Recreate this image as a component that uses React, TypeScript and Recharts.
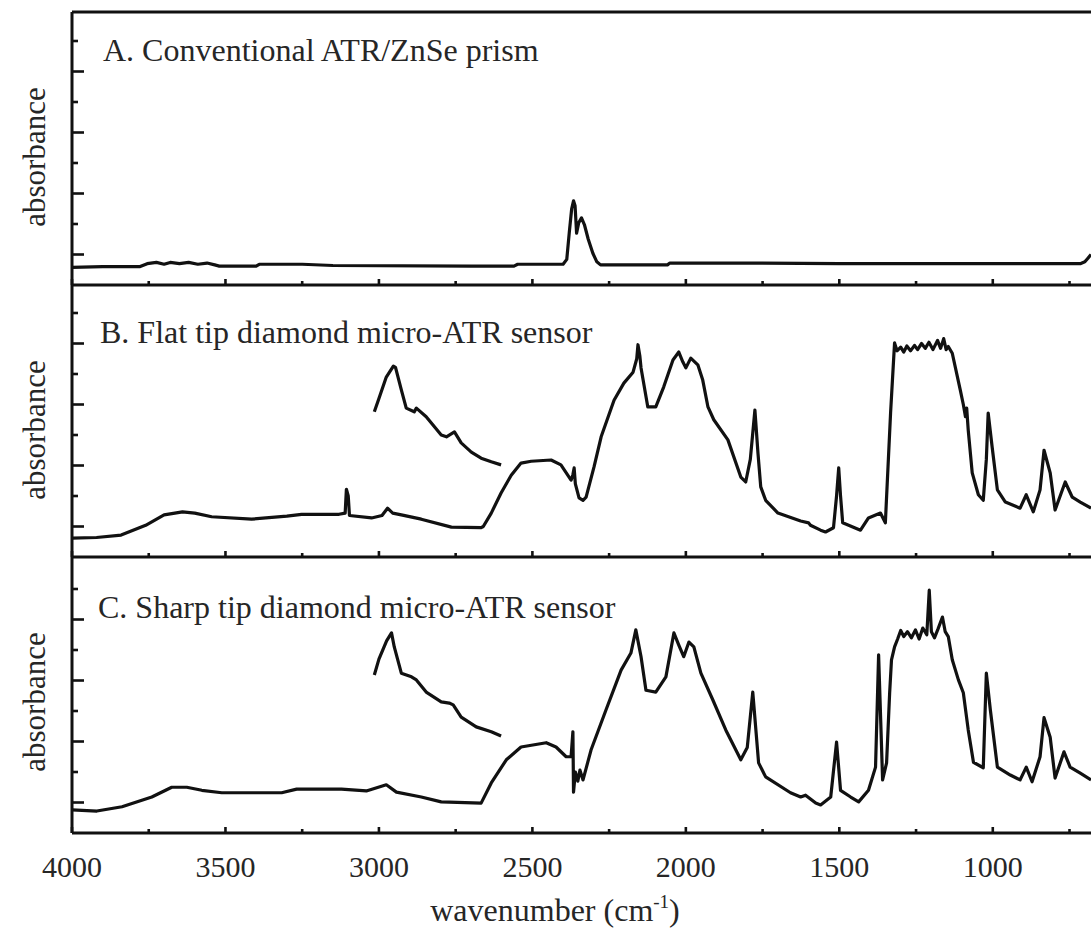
import React from 'react';
import { LineChart, Line, XAxis, YAxis, ReferenceLine } from 'recharts';

type Pt = [number, number];

// x axis (wavenumber, cm-1), reversed
const xDomain: [number, number] = [680, 4000];
const xTicks = [4000, 3750, 3500, 3250, 3000, 2750, 2500, 2250, 2000, 1750, 1500, 1250, 1000, 750];
const xLabels = [4000, 3500, 3000, 2500, 2000, 1500, 1000];
// y axis (absorbance, arbitrary units)
const yTicks = [0.5, 1, 1.5, 2, 2.5, 3, 3.5, 4];
const yMajor = [0.5, 1.5, 2.5, 3.5];

const panelTitles = [
  'A. Conventional ATR/ZnSe prism',
  'B. Flat tip diamond micro-ATR sensor',
  'C. Sharp tip diamond micro-ATR sensor',
];
const yTitle = 'absorbance';
const xTitle = 'wavenumber (cm';
const xTitleSup = '-1';

// A. Conventional ATR/ZnSe prism
const spectrumA: Pt[] = [
  [4000, 0.29], [3900, 0.30], [3780, 0.30], [3755, 0.35], [3725, 0.37], [3700, 0.34], [3680, 0.37],
  [3650, 0.35], [3620, 0.37], [3590, 0.34], [3560, 0.36], [3535, 0.33], [3520, 0.31], [3400, 0.31],
  [3390, 0.34], [3250, 0.34], [3150, 0.32], [2700, 0.31], [2560, 0.31], [2548, 0.34], [2400, 0.34],
  [2388, 0.42], [2380, 0.85], [2372, 1.25], [2366, 1.38], [2361, 1.30], [2356, 0.85], [2349, 1.02],
  [2340, 1.10], [2330, 0.98], [2318, 0.75], [2303, 0.52], [2290, 0.38], [2278, 0.33], [2060, 0.33],
  [2052, 0.36], [1800, 0.36], [1500, 0.35], [1200, 0.35], [900, 0.35], [715, 0.35], [700, 0.38],
  [690, 0.44], [680, 0.50],
];

// B. Flat tip diamond micro-ATR sensor
const spectrumB: Pt[] = [
  [4000, 0.31], [3920, 0.32], [3840, 0.36], [3760, 0.52], [3700, 0.69], [3640, 0.74], [3600, 0.72],
  [3545, 0.66], [3415, 0.62], [3300, 0.67], [3252, 0.70], [3130, 0.70], [3110, 0.72], [3106, 1.11],
  [3100, 1.00], [3096, 0.68], [3024, 0.64], [2990, 0.68], [2972, 0.80], [2955, 0.72], [2927, 0.69],
  [2862, 0.62], [2764, 0.49], [2667, 0.48], [2660, 0.50], [2634, 0.72], [2602, 1.05], [2569, 1.34],
  [2537, 1.54], [2504, 1.57], [2439, 1.59], [2407, 1.51], [2374, 1.26], [2368, 1.35], [2364, 1.46],
  [2360, 1.20], [2348, 0.97], [2335, 0.93], [2325, 0.98], [2299, 1.48], [2276, 1.97], [2234, 2.57],
  [2202, 2.85], [2172, 3.03], [2160, 3.25], [2156, 3.48], [2150, 3.30], [2146, 3.10], [2124, 2.46],
  [2098, 2.46], [2072, 2.79], [2042, 3.23], [2023, 3.36], [2010, 3.20], [2000, 3.10], [1984, 3.26],
  [1961, 3.15], [1945, 2.90], [1928, 2.46], [1909, 2.25], [1863, 1.92], [1821, 1.31], [1805, 1.23],
  [1790, 1.60], [1775, 2.41], [1765, 1.70], [1756, 1.15], [1740, 0.93], [1700, 0.72], [1626, 0.59],
  [1600, 0.56], [1594, 0.52], [1561, 0.44], [1545, 0.41], [1519, 0.48], [1509, 1.00], [1502, 1.46],
  [1496, 1.00], [1489, 0.56], [1431, 0.44], [1405, 0.64], [1366, 0.72], [1350, 0.56], [1333, 2.36],
  [1320, 3.51], [1312, 3.38], [1300, 3.44], [1290, 3.36], [1280, 3.46], [1268, 3.38], [1255, 3.47],
  [1245, 3.40], [1232, 3.50], [1220, 3.42], [1208, 3.52], [1195, 3.40], [1180, 3.55], [1170, 3.42],
  [1160, 3.58], [1152, 3.40], [1145, 3.45], [1132, 3.34], [1106, 2.74], [1096, 2.50], [1089, 2.30],
  [1085, 2.44], [1080, 2.08], [1067, 1.38], [1047, 1.02], [1031, 0.93], [1021, 1.60], [1015, 2.36],
  [1002, 1.80], [985, 1.10], [959, 0.90], [911, 0.80], [891, 1.02], [868, 0.74], [846, 1.10],
  [833, 1.75], [813, 1.38], [797, 0.77], [764, 1.23], [741, 0.98], [715, 0.90], [680, 0.80],
];

// B. expanded C-H stretch region
const insetB: Pt[] = [
  [3015, 2.38], [3000, 2.60], [2976, 2.95], [2953, 3.13], [2946, 3.11], [2927, 2.74], [2911, 2.44],
  [2885, 2.38], [2878, 2.44], [2846, 2.30], [2797, 2.00], [2780, 1.97], [2754, 2.05], [2732, 1.87],
  [2699, 1.72], [2667, 1.62], [2634, 1.56], [2602, 1.51],
];

// C. Sharp tip diamond micro-ATR sensor
const spectrumC: Pt[] = [
  [4000, 0.38], [3919, 0.36], [3837, 0.43], [3740, 0.59], [3675, 0.75], [3626, 0.75], [3577, 0.70],
  [3512, 0.66], [3317, 0.66], [3268, 0.72], [3122, 0.72], [3041, 0.69], [2976, 0.79], [2943, 0.67],
  [2862, 0.59], [2797, 0.51], [2667, 0.49], [2634, 0.82], [2585, 1.20], [2537, 1.41], [2455, 1.48],
  [2423, 1.41], [2390, 1.25], [2374, 1.25], [2368, 1.66], [2366, 0.67], [2360, 1.00], [2352, 0.85],
  [2345, 1.03], [2335, 0.87], [2309, 1.36], [2260, 2.02], [2211, 2.67], [2179, 2.95], [2163, 3.33],
  [2146, 2.89], [2130, 2.34], [2098, 2.31], [2065, 2.56], [2039, 3.28], [2023, 3.08], [2007, 2.89],
  [1990, 3.13], [1974, 3.05], [1951, 2.62], [1912, 2.18], [1870, 1.69], [1821, 1.20], [1800, 1.40],
  [1782, 2.31], [1763, 1.15], [1740, 0.92], [1659, 0.66], [1626, 0.59], [1610, 0.62], [1577, 0.49],
  [1561, 0.46], [1528, 0.59], [1509, 1.49], [1496, 0.70], [1463, 0.59], [1437, 0.51], [1405, 0.70],
  [1382, 1.08], [1372, 2.92], [1359, 0.87], [1346, 1.15], [1336, 2.30], [1330, 2.84], [1320, 3.05],
  [1310, 3.18], [1300, 3.32], [1290, 3.22], [1278, 3.30], [1265, 3.20], [1252, 3.33], [1240, 3.18],
  [1228, 3.36], [1215, 3.25], [1207, 3.98], [1200, 3.30], [1190, 3.20], [1178, 3.35], [1164, 3.54],
  [1155, 3.30], [1145, 3.22], [1132, 2.84], [1112, 2.51], [1096, 2.30], [1080, 1.69], [1063, 1.16],
  [1031, 1.07], [1021, 2.62], [1008, 2.02], [985, 1.08], [943, 0.95], [911, 0.87], [891, 1.08],
  [872, 0.84], [846, 1.25], [833, 1.89], [813, 1.57], [797, 0.90], [768, 1.33], [748, 1.08],
  [715, 0.98], [680, 0.87],
];

// C. expanded C-H stretch region
const insetC: Pt[] = [
  [3015, 2.59], [3000, 2.85], [2975, 3.15], [2959, 3.28], [2950, 3.05], [2927, 2.62], [2894, 2.56],
  [2878, 2.51], [2846, 2.31], [2797, 2.15], [2771, 2.13], [2758, 2.10], [2732, 1.90], [2683, 1.74],
  [2634, 1.66], [2602, 1.59],
];

const FONT = '"Liberation Serif", "Times New Roman", serif';
const INK = '#111';
const TEXT = '#262626';
const PX_PER_UNIT = 61;

const rows = (pts: Pt[]) => pts.map(([w, a]) => ({ w, a }));

function YTick(props: any) {
  const { x, y, payload } = props;
  const major = yMajor.includes(payload.value);
  return <line x1={x} y1={y} x2={x + (major ? 12 : 6)} y2={y} stroke={INK} strokeWidth={2.6} />;
}

function makeXTick(showLabel: boolean) {
  return (props: any) => {
    const { x, y, payload } = props;
    const major = xLabels.includes(payload.value);
    return (
      <g>
        <line x1={x} y1={y} x2={x} y2={y - (major ? 6 : 4)} stroke={INK} strokeWidth={2.6} />
        {showLabel && major ? (
          <text x={x} y={y + 44} textAnchor="middle" fontFamily={FONT} fontSize={30} fill={TEXT}>
            {payload.value}
          </text>
        ) : null}
      </g>
    );
  };
}

type PanelProps = {
  top: number;
  height: number;
  mTop: number;
  mBottom: number;
  main: Pt[];
  inset?: Pt[];
  title: string;
  titleDx: number;
  titleDy: number;
  topBorder?: boolean;
  showXLabels?: boolean;
};

const X_AXIS_H = 1;
const LINE_W = 3.2;

function Panel(p: PanelProps) {
  const plotH = p.height - p.mTop - p.mBottom - X_AXIS_H;
  const yMax = plotH / PX_PER_UNIT;
  const yLabel = (lp: any) => {
    const vb = lp.viewBox || {};
    const left = (vb.x || 0) + (vb.width || 0);
    const topY = vb.y || 0;
    const cy = topY + 145;
    return (
      <g>
        <text
          x={45}
          y={cy}
          transform={`rotate(-90, 45, ${cy})`}
          textAnchor="middle"
          fontFamily={FONT}
          fontSize={31}
          fill={TEXT}
        >
          {yTitle}
        </text>
        <text x={left + p.titleDx} y={topY + p.titleDy} fontFamily={FONT} fontSize={32} fill={TEXT}>
          {p.title}
        </text>
      </g>
    );
  };
  const xLabel = (lp: any) => {
    const vb = lp.viewBox || {};
    const by = (vb.y || 0) + 88;
    return (
      <text x={555} y={by} textAnchor="middle" fontFamily={FONT} fontSize={32} fill={TEXT}>
        {xTitle}
        <tspan fontSize={19} dy={-13}>{xTitleSup}</tspan>
        <tspan dy={13}>)</tspan>
      </text>
    );
  };
  return (
    <div style={{ position: 'absolute', left: 0, top: p.top, width: 1091, height: p.height }}>
      <LineChart
        width={1091}
        height={p.height}
        margin={{ top: p.mTop, right: 0, bottom: p.mBottom, left: 12 }}
        style={{ overflow: 'visible' }}
      >
        <XAxis
          type="number"
          dataKey="w"
          domain={xDomain}
          reversed
          allowDataOverflow
          ticks={xTicks}
          interval={0}
          height={X_AXIS_H}
          tickSize={0}
          tickMargin={0}
          tickLine={false}
          axisLine={{ stroke: INK, strokeWidth: 3 }}
          tick={makeXTick(!!p.showXLabels)}
          label={p.showXLabels ? { content: xLabel } : undefined}
        />
        <YAxis
          type="number"
          domain={[0, yMax]}
          allowDataOverflow
          ticks={yTicks}
          interval={0}
          width={60}
          tickSize={0}
          tickMargin={0}
          tickLine={false}
          axisLine={{ stroke: INK, strokeWidth: 3 }}
          tick={YTick}
          label={{ content: yLabel }}
        />
        {p.topBorder ? <ReferenceLine y={yMax} stroke={INK} strokeWidth={3} /> : null}
        <Line
          data={rows(p.main)}
          dataKey="a"
          type="linear"
          stroke={INK}
          strokeWidth={LINE_W}
          strokeLinejoin="round"
          dot={false}
          activeDot={false}
          isAnimationActive={false}
        />
        {p.inset ? (
          <Line
            data={rows(p.inset)}
            dataKey="a"
            type="linear"
            stroke={INK}
            strokeWidth={LINE_W}
            strokeLinejoin="round"
            dot={false}
            activeDot={false}
            isAnimationActive={false}
          />
        ) : null}
      </LineChart>
    </div>
  );
}

export default function App() {
  return (
    <div
      style={{
        position: 'absolute',
        left: 0,
        top: 0,
        width: 1091,
        height: 933,
        overflow: 'hidden',
        background: '#fff',
      }}
    >
      <Panel top={0} height={300} mTop={12} mBottom={14} main={spectrumA} title={panelTitles[0]} titleDx={31} titleDy={49} topBorder />
      <Panel top={270} height={300} mTop={15} mBottom={12} main={spectrumB} inset={insetB} title={panelTitles[1]} titleDx={28} titleDy={58} />
      <Panel top={542} height={391} mTop={15} mBottom={99} main={spectrumC} inset={insetC} title={panelTitles[2]} titleDx={26} titleDy={61} showXLabels />
    </div>
  );
}
